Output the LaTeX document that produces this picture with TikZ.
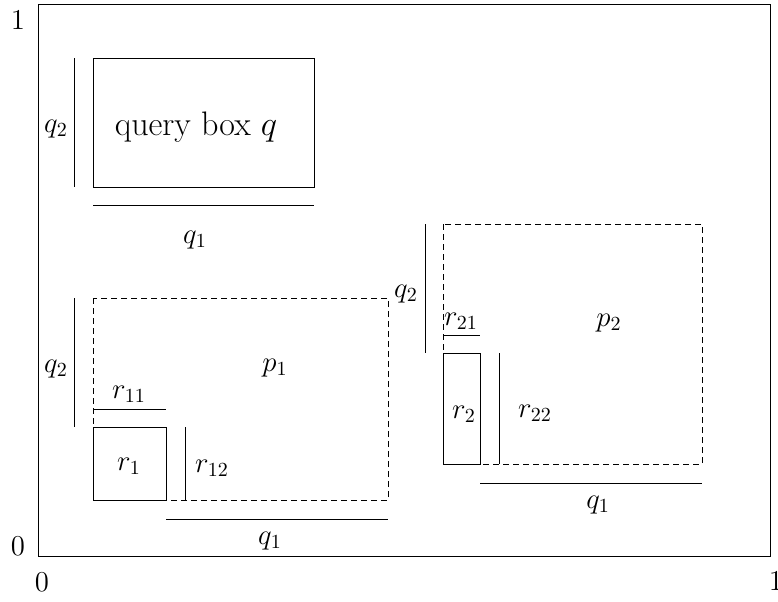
\documentclass[tikz,border=0pt]{standalone}
\begin{document}
\begin{tikzpicture}[x=0.5pt,y=-0.5pt,
  thin line/.style={line width=0.5pt},
  dashbox/.style={line width=0.5pt, dash pattern=on 3pt off 2pt},
  lbl/.style={inner sep=0pt, font=\fontsize{14.5}{17}\selectfont},
  big/.style={inner sep=0pt, font=\fontsize{17}{20}\selectfont}]
\useasboundingbox (0,0) rectangle (778,601);
% outer frame
\draw[thin line] (38,4) rectangle (770,556);
\node[lbl] (t1) at (18,20) {$1$};
\node[lbl] (l0) at (18,546) {$0$};
\node[lbl] (b0) at (42,582) {$0$};
\node[lbl] (b1) at (776,581) {$1$};
% query box
\draw[thin line] (93,58) rectangle (314,187);
\node[big] (qb) at (196,127) {query box $q$};
\draw[thin line] (74,58) -- (74,187);
\node[lbl] (qq2) at (56,129) {$q_2$};
\draw[thin line] (93,205) -- (314,205);
\node[lbl] (qq1) at (195,240) {$q_1$};
% p1
\draw[dashbox] (93,298) rectangle (388,500);
\node[lbl] (p1) at (275,368) {$p_1$};
\draw[thin line] (74,298) -- (74,427);
\node[lbl] (pq2) at (56,369) {$q_2$};
\draw[thin line] (93,427) rectangle (166,500);
\node[lbl] (r1) at (129,466) {$r_1$};
\draw[thin line] (93,409) -- (166,409);
\node[lbl] (r11) at (129,394) {$r_{11}$};
\draw[thin line] (185,427) -- (185,500);
\node[lbl] (r12) at (212,468) {$r_{12}$};
\draw[thin line] (166,519) -- (388,519);
\node[lbl] (pq1) at (270,541) {$q_1$};
% p2
\draw[dashbox] (443,224) rectangle (702,464);
\node[lbl] (p2) at (609,323) {$p_2$};
\draw[thin line] (425,224) -- (425,353);
\node[lbl] (sq2) at (406,294) {$q_2$};
\draw[thin line] (443,353) rectangle (480,464);
\node[lbl] (r2) at (464,414) {$r_2$};
\draw[thin line] (443,335) -- (480,335);
\node[lbl] (r21) at (461,321) {$r_{21}$};
\draw[thin line] (499,353) -- (499,464);
\node[lbl] (r22) at (535,413) {$r_{22}$};
\draw[thin line] (480,483) -- (702,483);
\node[lbl] (sq1) at (598,505) {$q_1$};
\end{tikzpicture}
\end{document}
